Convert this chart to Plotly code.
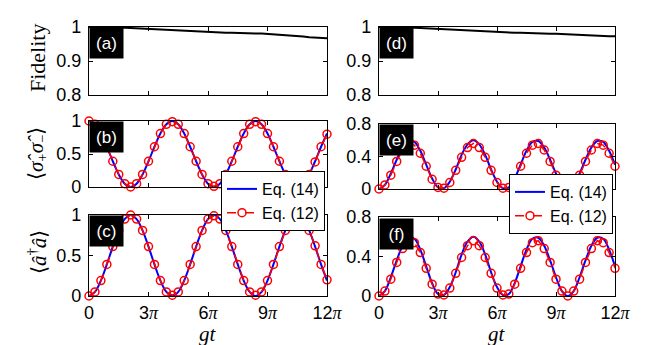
import plotly.graph_objects as go
from plotly.subplots import make_subplots

# gt / pi sample points
gt_over_pi = [0, 0.3, 0.6, 0.9, 1.2, 1.5, 1.8, 2.1, 2.4, 2.7, 3.0, 3.3, 3.6, 3.9, 4.2,
              4.5, 4.8, 5.1, 5.4, 5.7, 6.0, 6.3, 6.6, 6.9, 7.2, 7.5, 7.8, 8.1, 8.4,
              8.7, 9.0, 9.3, 9.6, 9.9, 10.2, 10.5, 10.8, 11.1, 11.4, 11.7, 12.0]

# (a) / (d) fidelity
fid_a = [1.0, 1.0, 0.9995, 0.999, 0.999, 0.998, 0.998, 0.997, 0.996, 0.995, 0.994,
         0.993, 0.992, 0.991, 0.990, 0.989, 0.988, 0.987, 0.986, 0.985, 0.984, 0.984,
         0.983, 0.983, 0.983, 0.982, 0.982, 0.982, 0.981, 0.981, 0.980, 0.979, 0.978,
         0.977, 0.975, 0.974, 0.972, 0.970, 0.969, 0.968, 0.967]
fid_d = [1.0, 1.0, 1.0, 0.999, 0.999, 0.998, 0.998, 0.997, 0.996, 0.995, 0.995,
         0.994, 0.993, 0.992, 0.991, 0.990, 0.989, 0.988, 0.988, 0.987, 0.986, 0.985,
         0.984, 0.983, 0.983, 0.982, 0.982, 0.981, 0.981, 0.980, 0.980, 0.979, 0.979,
         0.978, 0.977, 0.977, 0.976, 0.975, 0.974, 0.973, 0.973]

# (b) <sigma+ sigma->
sig_b_eq14 = [1.0, 0.95, 0.81, 0.61, 0.39, 0.19, 0.05, 0.0, 0.05, 0.19, 0.39, 0.61, 0.81, 0.95,
              1.0, 0.95, 0.81, 0.61, 0.39, 0.19, 0.05, 0.0, 0.05, 0.19, 0.39, 0.61, 0.81, 0.95,
              1.0, 0.95, 0.81, 0.61, 0.39, 0.19, 0.05, 0.0, 0.05, 0.19, 0.39, 0.61, 0.81]
sig_b_eq12 = [1.0, 0.95, 0.81, 0.61, 0.39, 0.19, 0.05, 0.0, 0.05, 0.19, 0.39, 0.61, 0.81, 0.95,
              0.99, 0.95, 0.81, 0.61, 0.39, 0.19, 0.05, 0.01, 0.05, 0.19, 0.39, 0.61, 0.81, 0.95,
              0.99, 0.95, 0.81, 0.61, 0.39, 0.19, 0.06, 0.01, 0.05, 0.19, 0.38, 0.61, 0.80]

# (c) <a+ a>
n_c_eq14 = [0.0, 0.05, 0.19, 0.39, 0.61, 0.81, 0.95, 1.0, 0.95, 0.81, 0.61, 0.39, 0.19, 0.05,
            0.0, 0.05, 0.19, 0.39, 0.61, 0.81, 0.95, 1.0, 0.95, 0.81, 0.61, 0.39, 0.19, 0.05,
            0.0, 0.05, 0.19, 0.39, 0.61, 0.81, 0.95, 1.0, 0.95, 0.81, 0.61, 0.39, 0.19]
n_c_eq12 = [0.0, 0.05, 0.19, 0.39, 0.61, 0.81, 0.95, 1.0, 0.95, 0.81, 0.61, 0.39, 0.19, 0.05,
            0.01, 0.05, 0.19, 0.39, 0.61, 0.81, 0.95, 0.99, 0.95, 0.81, 0.61, 0.39, 0.19, 0.05,
            0.01, 0.05, 0.19, 0.39, 0.61, 0.81, 0.94, 0.99, 0.95, 0.81, 0.62, 0.39, 0.20]

# (e) <sigma+ sigma->
sig_e_eq14 = [0.0, 0.05, 0.19, 0.36, 0.51, 0.59, 0.58, 0.47, 0.30, 0.13, 0.02, 0.01, 0.09, 0.24,
              0.42, 0.55, 0.60, 0.55, 0.42, 0.24, 0.09, 0.01, 0.02, 0.13, 0.30, 0.47, 0.58, 0.59,
              0.51, 0.36, 0.19, 0.05, 0.0, 0.05, 0.19, 0.36, 0.51, 0.59, 0.58, 0.47, 0.30]
sig_e_eq12 = [0.0, 0.05, 0.17, 0.34, 0.48, 0.56, 0.54, 0.44, 0.28, 0.12, 0.02, 0.01, 0.08, 0.23,
              0.39, 0.51, 0.56, 0.51, 0.39, 0.23, 0.08, 0.01, 0.02, 0.12, 0.28, 0.44, 0.54, 0.56,
              0.48, 0.34, 0.17, 0.05, 0.0, 0.05, 0.17, 0.34, 0.48, 0.56, 0.54, 0.44, 0.28]

# (f) <a+ a>
n_f_eq14 = [0.0, 0.05, 0.19, 0.36, 0.51, 0.59, 0.58, 0.47, 0.30, 0.13, 0.02, 0.01, 0.09, 0.24,
            0.42, 0.55, 0.60, 0.55, 0.42, 0.24, 0.09, 0.01, 0.02, 0.13, 0.30, 0.47, 0.58, 0.59,
            0.51, 0.36, 0.19, 0.05, 0.0, 0.05, 0.19, 0.36, 0.51, 0.59, 0.58, 0.47, 0.30]
n_f_eq12 = [0.0, 0.05, 0.17, 0.34, 0.48, 0.56, 0.54, 0.44, 0.28, 0.12, 0.02, 0.01, 0.08, 0.23,
            0.39, 0.51, 0.56, 0.51, 0.39, 0.23, 0.08, 0.01, 0.02, 0.12, 0.28, 0.44, 0.54, 0.56,
            0.48, 0.34, 0.17, 0.05, 0.0, 0.05, 0.17, 0.34, 0.48, 0.56, 0.54, 0.44, 0.28]

SANS = "Liberation Sans"
SERIF = "Liberation Serif"
PI = '<span style="font-family:Liberation Serif"><i>π</i></span>'

x_ticks = [0, 3, 6, 9, 12]
x_ticktext = ["0", "3" + PI, "6" + PI, "9" + PI, "12" + PI]

# page body has an 8px margin, so the figure is shrunk and all positions shifted by it
OFF = 8
W, H = 664 - OFF, 345 - OFF


def px(x):
    return (x - OFF) / W


def py(y):
    return 1 - (y - OFF) / H


fig = make_subplots(rows=3, cols=2)

# fidelity panels
for col, fid in [(1, fid_a), (2, fid_d)]:
    fig.add_trace(go.Scatter(x=gt_over_pi, y=fid, mode="lines", line=dict(color="black", width=2),
                             showlegend=False), row=1, col=col)

panels = [(2, 1, sig_b_eq14, sig_b_eq12, "legend", True),
          (3, 1, n_c_eq14, n_c_eq12, "legend", False),
          (2, 2, sig_e_eq14, sig_e_eq12, "legend2", True),
          (3, 2, n_f_eq14, n_f_eq12, "legend2", False)]
for row, col, y14, y12, leg, show in panels:
    fig.add_trace(go.Scatter(x=gt_over_pi, y=y14, mode="lines", name="Eq. (14)",
                             line=dict(color="rgb(0,0,255)", width=2, shape="spline"),
                             legend=leg, showlegend=show, cliponaxis=False), row=row, col=col)
    fig.add_trace(go.Scatter(x=gt_over_pi, y=y12, mode="lines+markers", name="Eq. (12)",
                             line=dict(color="red", width=1.5, dash="dash"),
                             marker=dict(symbol="circle-open", size=8, color="red", line=dict(width=1.5)),
                             legend=leg, showlegend=show, cliponaxis=False), row=row, col=col)

# axis geometry (pixels in the reference picture)
xdom = {1: (89, 327), 2: (379, 615)}
ydom = {(1, 1): (27, 95), (1, 2): (27, 95),
        (2, 1): (121, 187), (2, 2): (124, 189),
        (3, 1): (215, 296), (3, 2): (217, 296)}
yrng = {(1, 1): [0.8, 1], (1, 2): [0.8, 1],
        (2, 1): [0, 1], (3, 1): [0, 1],
        (2, 2): [0, 0.8], (3, 2): [0, 0.8]}
ytk = {(1, 1): ([0.8, 0.9, 1], ["0.8", "0.9", "1"]), (1, 2): ([0.8, 0.9, 1], ["0.8", "0.9", "1"]),
       (2, 1): ([0, 0.5, 1], ["0", "0.5", "1"]), (3, 1): ([0, 0.5, 1], ["0", "0.5", "1"]),
       (2, 2): ([0, 0.4, 0.8], ["0", "0.4", "0.8"]), (3, 2): ([0, 0.4, 0.8], ["0", "0.4", "0.8"])}

common = dict(showline=True, linecolor="black", linewidth=1.2, mirror="ticks", ticks="inside",
              ticklen=4, tickcolor="black", showgrid=False, zeroline=False, automargin=False,
              tickfont=dict(family=SANS, size=18, color="black"))

for row in range(1, 4):
    for col in (1, 2):
        x0, x1 = xdom[col]
        y0, y1 = ydom[(row, col)]
        fig.update_xaxes(domain=[px(x0), px(x1)], range=[0, 12], tickvals=x_ticks,
                         ticktext=x_ticktext, showticklabels=(row == 3), **common, row=row, col=col)
        tv, tt = ytk[(row, col)]
        fig.update_yaxes(domain=[py(y1), py(y0)], range=yrng[(row, col)], tickvals=tv, ticktext=tt,
                         ticklabelstandoff=3, **common, row=row, col=col)

# panel labels: black boxes with white text
labels = [("(a)", 89, 27), ("(b)", 89, 121), ("(c)", 89, 215),
          ("(d)", 379, 27), ("(e)", 379, 124), ("(f)", 379, 218)]
for txt, bx, by in labels:
    fig.add_annotation(text=txt, xref="paper", yref="paper", x=px(bx), y=py(by),
                       xanchor="left", yanchor="top", width=33, height=30, borderpad=0,
                       bgcolor="black", showarrow=False,
                       font=dict(family=SANS, size=17, color="white"))

# y-axis titles
ytitles = [("Fidelity", 58, 22), ("⟨<i>σ̂</i><sub>+</sub><i>σ̂</i><sub>−</sub>⟩", 154, 21),
           ("⟨<i>â</i><sup>†</sup><i>â</i>⟩", 252, 21)]
for txt, yc, fs in ytitles:
    fig.add_annotation(text=txt, xref="paper", yref="paper", x=px(37), y=py(yc), textangle=-90,
                       xanchor="center", yanchor="middle",
                       showarrow=False, font=dict(family=SERIF, size=fs, color="black"))

# x-axis titles
for xc in (208, 497):
    fig.add_annotation(text="<i>gt</i>", xref="paper", yref="paper", x=px(xc), y=py(334),
                       xanchor="center", yanchor="middle",
                       showarrow=False, font=dict(family=SERIF, size=21, color="black"))

leg_style = dict(xanchor="left", yanchor="top", bgcolor="white", bordercolor="black", borderwidth=1,
                 font=dict(family=SANS, size=16, color="black"), itemwidth=30, tracegroupgap=0)
fig.update_layout(
    width=W, height=H, margin=dict(l=0, r=0, t=0, b=0),
    paper_bgcolor="white", plot_bgcolor="white",
    legend=dict(x=px(221), y=py(171), **leg_style),
    legend2=dict(x=px(509), y=py(174), **leg_style),
)

fig.write_html("out.html")
